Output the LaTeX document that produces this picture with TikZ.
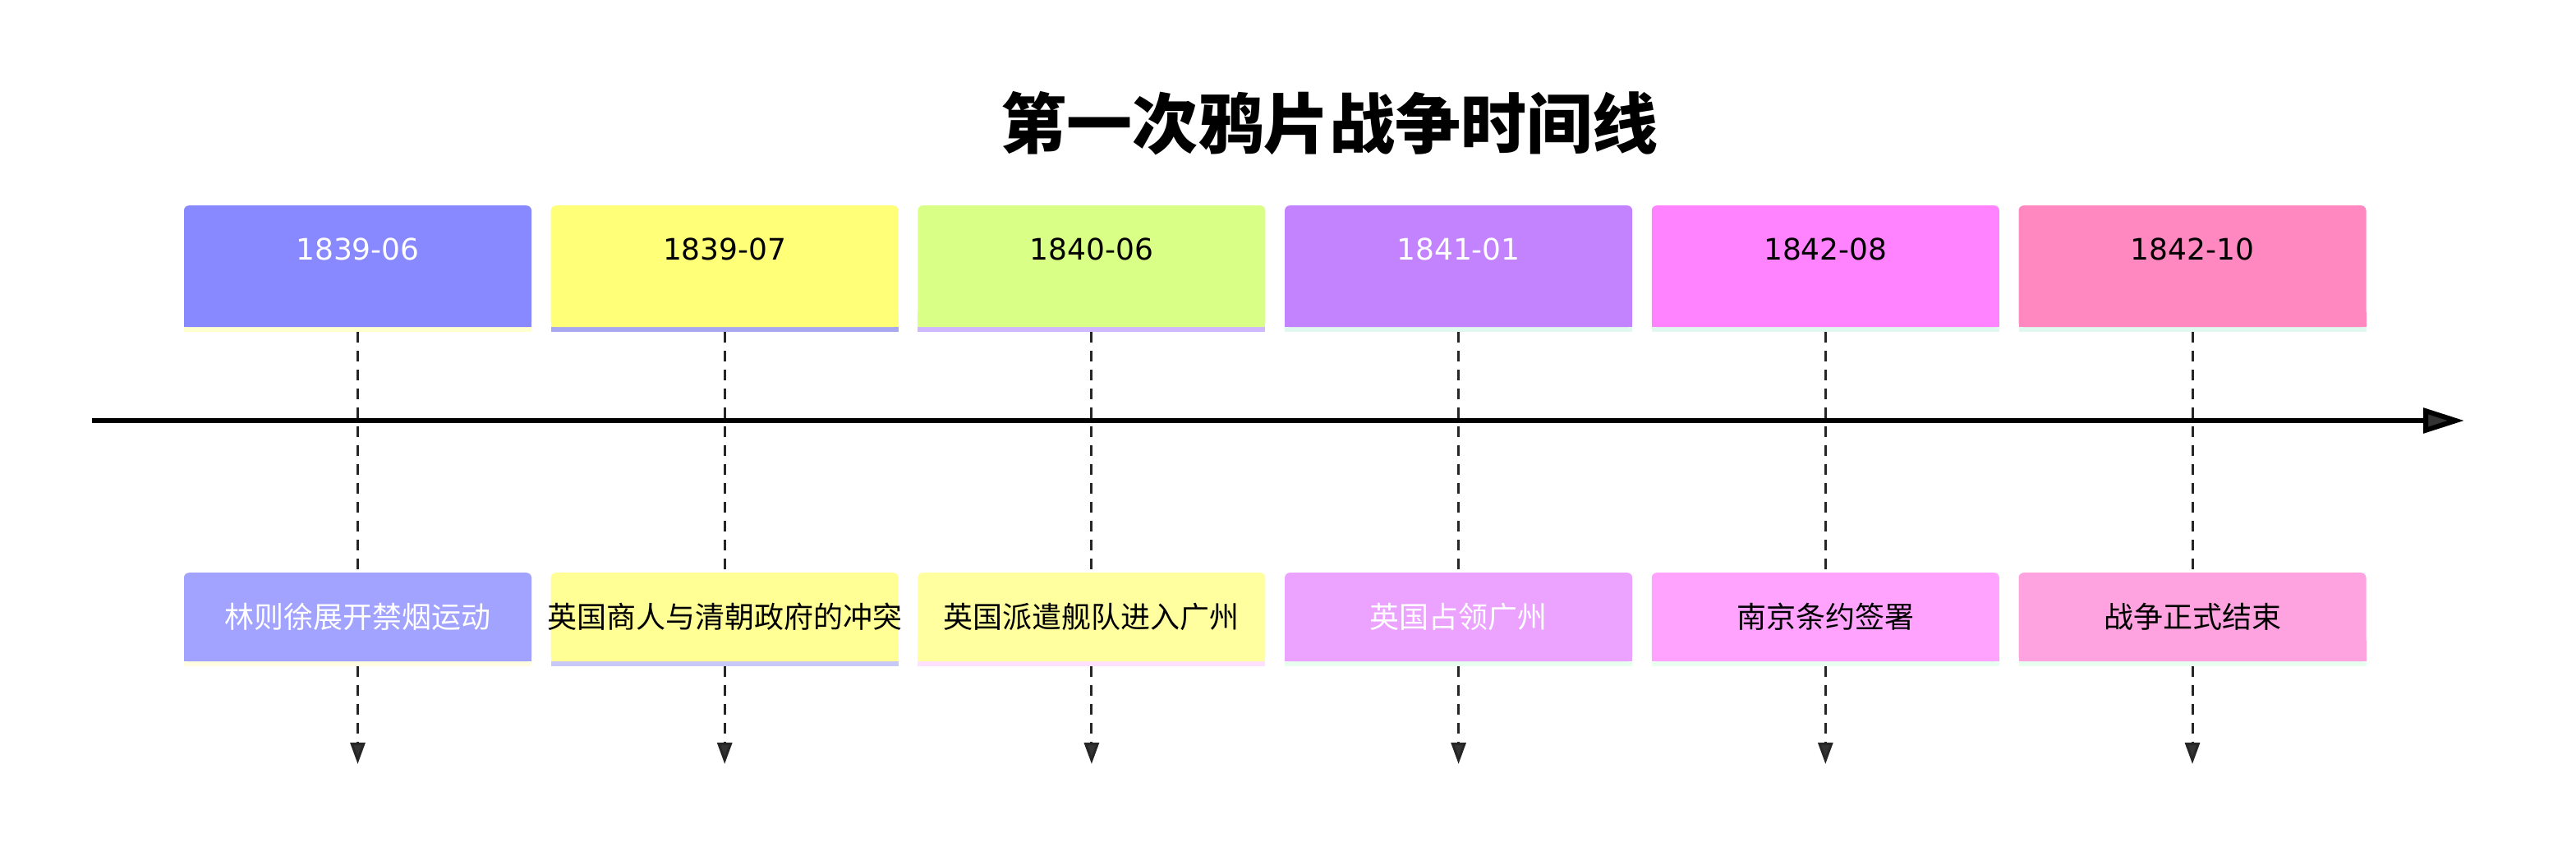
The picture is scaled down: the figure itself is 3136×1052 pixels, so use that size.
\documentclass[tikz,border=0pt]{standalone}
\usepackage{fontspec}
\setmainfont{DejaVu Sans}
\newfontfamily\cjk{Noto Sans CJK SC}
\usetikzlibrary{arrows.meta}
\tikzset{
 datebox/.style={draw=none,rounded corners=6pt,minimum width=423pt,minimum height=148pt,inner sep=0pt},
 evbox/.style={draw=none,rounded corners=6pt,minimum width=423pt,minimum height=108pt,inner sep=0pt},
 conn/.style={line width=3pt,dash pattern=on 13pt off 10pt,draw=black!85},
}
\definecolor{t1}{HTML}{8888FF}\definecolor{t2}{HTML}{FFFF78}\definecolor{t3}{HTML}{D9FF87}
\definecolor{t4}{HTML}{C383FF}\definecolor{t5}{HTML}{FF83FF}\definecolor{t6}{HTML}{FF88C0}
\definecolor{b1}{HTML}{A2A2FF}\definecolor{b2}{HTML}{FFFF96}\definecolor{b3}{HTML}{FFFFA0}
\definecolor{b4}{HTML}{EBA3FF}\definecolor{b5}{HTML}{FFA3FF}\definecolor{b6}{HTML}{FFA3E0}
\definecolor{s1}{HTML}{FFFFD0}\definecolor{s2}{HTML}{A8A8F0}\definecolor{s3}{HTML}{D0B8FF}
\definecolor{s4}{HTML}{E0F8F0}\definecolor{s5}{HTML}{E0F8F0}\definecolor{s6}{HTML}{E0F8F0}
\definecolor{u1}{HTML}{FFFDE0}\definecolor{u2}{HTML}{C8C8F8}\definecolor{u3}{HTML}{FFE0FF}
\definecolor{u4}{HTML}{E8FFF0}\definecolor{u5}{HTML}{E8FFF0}\definecolor{u6}{HTML}{E8FFF0}
\begin{document}
\begin{tikzpicture}[x=1pt,y=-1pt]
\useasboundingbox (0,0) rectangle (3136,1052);
\node (title) at (1618,150) {\fontsize{80}{90}\selectfont\cjk\bfseries 第一次鸦片战争时间线};
\coordinate (axs) at (112,512);
\coordinate (axe) at (3000,512);
\draw[line width=6pt,-{Triangle[length=50pt,width=30pt,fill=black!80]}] (axs) -- (axe);
\foreach \i/\d/\e/\tc in {1/1839-06/林则徐展开禁烟运动/white,2/1839-07/英国商人与清朝政府的冲突/black,3/1840-06/英国派遣舰队进入广州/black,4/1841-01/英国占领广州/white,5/1842-08/南京条约签署/black,6/1842-10/战争正式结束/black}{
 \pgfmathsetmacro\cx{435.5+446.7*(\i-1)}
 \fill[s\i] (\cx-211.5,392) rectangle (\cx+211.5,404);
 \node[datebox,fill=t\i,anchor=north] (d\i) at (\cx,250) {};
 \fill[t\i] (\cx-211.5,380) rectangle (\cx+211.5,398);
 \node[text=\tc,font=\fontsize{36}{40}\selectfont] (dt\i) at (\cx,303) {\d};
 \fill[u\i] (\cx-211.5,795) rectangle (\cx+211.5,811);
 \node[evbox,fill=b\i,anchor=north] (e\i) at (\cx,697) {};
 \fill[b\i] (\cx-211.5,780) rectangle (\cx+211.5,805);
 \node[text=\tc,font=\fontsize{36}{40}\selectfont\cjk] (et\i) at (\cx,751) {\e};
 \coordinate (tip\i) at (\cx,930);
 \draw[conn] (\cx,404) -- (e\i.north);
 \draw[conn,-{Triangle[length=26pt,width=18pt,fill=black!80]}] (\cx,811) -- (tip\i);
}
\end{tikzpicture}
\end{document}
